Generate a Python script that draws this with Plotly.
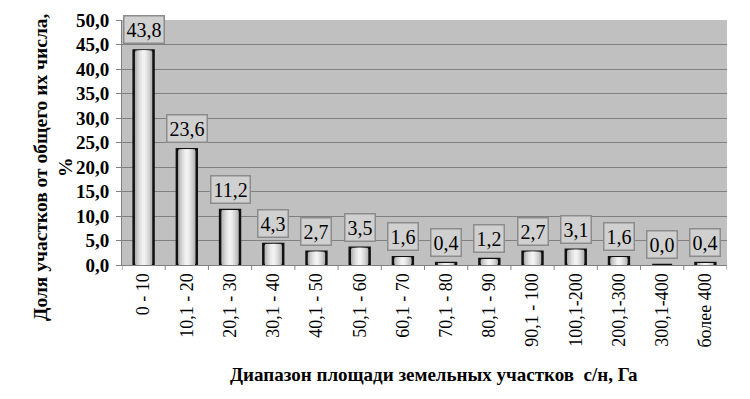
import plotly.graph_objects as go

categories = ["0 - 10", "10,1 - 20", "20,1 - 30", "30,1 - 40", "40,1 - 50", "50,1 - 60",
              "60,1 - 70", "70,1 - 80", "80,1 - 90", "90,1 - 100", "100,1-200",
              "200,1-300", "300,1-400", "более 400"]
values = [43.8, 23.6, 11.2, 4.3, 2.7, 3.5, 1.6, 0.4, 1.2, 2.7, 3.1, 1.6, 0.0, 0.4]
labels = ["43,8", "23,6", "11,2", "4,3", "2,7", "3,5", "1,6", "0,4", "1,2", "2,7", "3,1", "1,6", "0,0", "0,4"]
y_ticks = [0, 5, 10, 15, 20, 25, 30, 35, 40, 45, 50]
y_ticktext = ["0,0", "5,0", "10,0", "15,0", "20,0", "25,0", "30,0", "35,0", "40,0", "45,0", "50,0"]

SERIF = "Liberation Serif"
xs = list(range(len(categories)))

fig = go.Figure()
fig.add_trace(go.Bar(x=xs, y=values, width=0.46,
                     marker=dict(color="#a8a8a8", line=dict(color="#111111", width=2.5)),
                     hoverinfo="skip"))
layers = [(0.38, "#bdbdbd"), (0.30, "#cfcfcf"), (0.22, "#dedede"), (0.14, "#eaeaea"), (0.07, "#f2f2f2")]
for w, c in layers:
    fig.add_trace(go.Bar(x=xs, y=values, width=w,
                         marker=dict(color=c, line=dict(width=0)),
                         hoverinfo="skip"))

for x, v, t in zip(xs, values, labels):
    fig.add_annotation(x=x, y=v, text=t, showarrow=False, yanchor="bottom", yshift=6,
                       font=dict(family=SERIF, size=20, color="#000000"),
                       bgcolor="#d0d0d0", bordercolor="#8c8c8c", borderwidth=1.5, borderpad=2)

fig.add_annotation(xref="paper", yref="paper", x=-0.114, y=0.40, xanchor="center", yanchor="middle",
                   text="<b>Доля участков от общего их числа,<br>%</b>", textangle=-90, showarrow=False,
                   font=dict(family=SERIF, size=19.5, color="#000000"))
fig.add_annotation(xref="paper", yref="paper", x=0.515, y=-0.448, xanchor="center", yanchor="middle",
                   text="<b>Диапазон площади земельных участков  с/н, Га</b>", showarrow=False,
                   font=dict(family=SERIF, size=19, color="#000000"))

fig.update_layout(
    template="none",
    width=750, height=399,
    margin=dict(l=114, r=31, t=12, b=142, autoexpand=False),
    paper_bgcolor="white", plot_bgcolor="#c0c0c0",
    barmode="overlay", showlegend=False,
    font=dict(family=SERIF),
    xaxis=dict(tickmode="array", tickvals=xs, ticktext=categories, tickangle=-90,
               range=[-0.5, len(categories) - 0.5], automargin=False,
               tickfont=dict(family=SERIF, size=18, color="#000000"),
               showgrid=False, showline=True, linecolor="#808080", linewidth=1,
               ticks="", zeroline=False),
    yaxis=dict(range=[0, 50], tickvals=y_ticks, ticktext=y_ticktext, automargin=False,
               tickfont=dict(family=SERIF, size=19, color="#000000", weight="bold"),
               showgrid=True, gridcolor="#808080", gridwidth=1.3,
               showline=True, linecolor="#808080", linewidth=1, ticks="outside", ticklen=5,
               tickcolor="#808080", ticklabelstandoff=3, zeroline=False),
)
for i in range(len(categories) + 1):
    fig.add_shape(type="line", xref="x", yref="paper", x0=i - 0.5, x1=i - 0.5, y0=0, y1=-0.02,
                  line=dict(color="#808080", width=1))

fig.write_html("out.html")
